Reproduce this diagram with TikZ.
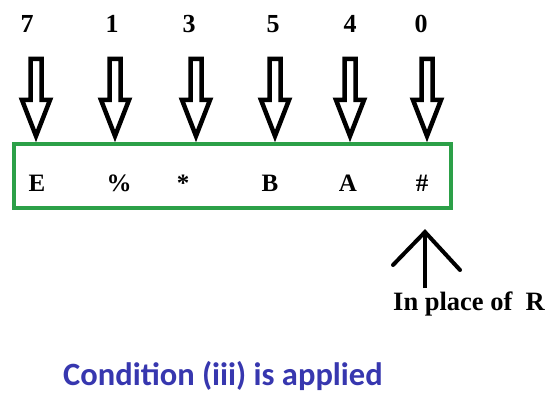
\documentclass[tikz,border=0pt]{standalone}
\usepackage{fontspec}
\setmainfont{Liberation Serif}
\newfontfamily\carl{Carlito}
\definecolor{boxgreen}{RGB}{44,160,72}
\definecolor{condblue}{RGB}{55,55,175}
\begin{document}
\begin{tikzpicture}[x=1pt,y=-1pt,
  numlbl/.style={font=\fontsize{26}{28}\selectfont\bfseries, inner sep=0pt, anchor=base},
  cell/.style={font=\fontsize{25}{27}\selectfont\bfseries, inner sep=0pt, anchor=base},
  hollow/.style={draw=black, line width=4.5pt, line join=miter, fill=white},
  upline/.style={draw=black, line width=4pt}]
\useasboundingbox (0,0) rectangle (548,401);
\fill[white] (0,0) rectangle (548,401);
% numbers
\foreach \nm/\x/\t in {n1/27/7, n2/112/1, n3/189/3, n4/273/5, n5/350/4, n6/421/0}
  \node[numlbl] (\nm) at (\x,33) {\t};
% hollow arrows
\foreach \c in {36,115,196,275,350,427}
  \draw[hollow] (\c-5.5,59) -- (\c+5.5,59) -- (\c+5.5,100) -- (\c+14,100) -- (\c,136) -- (\c-14,100) -- (\c-5.5,100) -- cycle;
% green box
\draw[boxgreen, line width=4.5pt] (14,144) rectangle (451,208);
\foreach \nm/\x/\t in {l1/37/E, l2/119/\%, l3/183/*, l4/270/B, l5/348/A, l6/422/\#}
  \node[cell] (\nm) at (\x,191) {\t};
% up arrow
\coordinate (tip) at (425,232);
\coordinate (base) at (425,288);
\coordinate (armL) at (393,265);
\coordinate (armR) at (460,270);
\draw[upline] (base) -- (tip);
\draw[upline, line cap=round, line join=miter] (armL) -- (tip) -- (armR);
\node[font=\fontsize{26.5}{28}\selectfont\bfseries, anchor=base west, inner sep=0pt] (rlbl) at (393,310) {In place of\ \ R};
\node[font=\carl\fontsize{32.5}{34}\selectfont\bfseries, text=condblue, anchor=base west, inner sep=0pt] (cond) at (63,385) {Condition (iii) is applied};
\end{tikzpicture}
\end{document}
